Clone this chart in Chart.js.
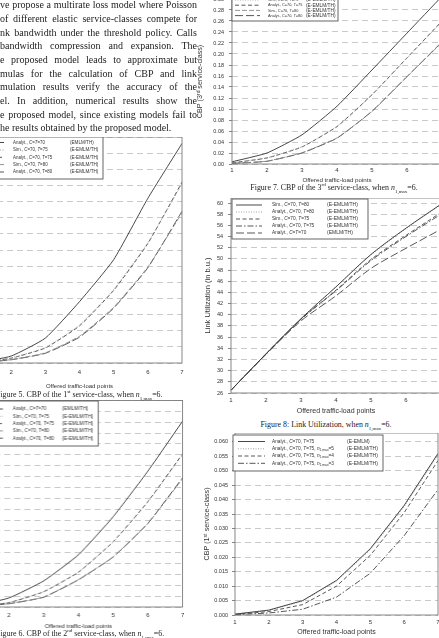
<!DOCTYPE html>
<html>
<head>
<meta charset="utf-8">
<script src="https://cdn.jsdelivr.net/npm/chart.js@4.4.1/dist/chart.umd.min.js"></script>
<style>
  body { margin: 0; width: 439px; height: 638px; overflow: hidden; background: #fff; position: relative;
         font-family: 'Liberation Serif', 'Times New Roman', serif; color: #222; }
  .line { position: absolute; left: 0; width: 197px; font-size: 10px; line-height: 13.7px; height: 13.7px;
          text-align: justify; text-align-last: justify; white-space: nowrap; }
  .line.last { text-align-last: left; }
  .cap { position: absolute; font-size: 7.9px; line-height: 10px; white-space: nowrap; color: #222; }
  .cap.mid { width: 240px; text-align: center; }
  .cap sub, .cap sup { font-size: 5px; line-height: 0; }
  .chartBox { position: absolute; }
</style>
</head>
<body>
<script>
// x axis: offered traffic-load points
let loadPoints = [1, 2, 3, 4, 5, 6, 7];

// Figure 5, CBP of the 1st service-class
let f5Analyt70 = [0.0002, 0.0043, 0.0154, 0.038, 0.064, 0.102, 0.136];
let f5Sim75 = [0.0001, 0.0031, 0.0096, 0.0235, 0.0455, 0.0745, 0.111];
let f5Analyt75 = [0.0001, 0.003, 0.0093, 0.023, 0.045, 0.074, 0.112];
let f5Sim80 = [0.0001, 0.0021, 0.0063, 0.0166, 0.0345, 0.0595, 0.093];
let f5Analyt80 = [0.0001, 0.002, 0.006, 0.016, 0.034, 0.059, 0.094];

// Figure 6, CBP of the 2nd service-class
let f6Analyt70 = [0.001, 0.0083, 0.024, 0.048, 0.083, 0.125, 0.171];
let f6Sim75 = [0.0005, 0.0042, 0.0142, 0.0322, 0.0598, 0.0965, 0.140];
let f6Analyt75 = [0.0005, 0.004, 0.014, 0.032, 0.060, 0.097, 0.141];
let f6Sim80 = [0.0003, 0.0031, 0.0092, 0.0252, 0.0462, 0.0768, 0.118];
let f6Analyt80 = [0.0003, 0.003, 0.009, 0.025, 0.046, 0.077, 0.119];

// Figure 7, CBP of the 3rd service-class
let f7Analyt70 = [0.004, 0.020, 0.053, 0.105, 0.171, 0.238, 0.305];
let f7Sim75 = [0.002, 0.0112, 0.0315, 0.0685, 0.1255, 0.1925, 0.259];
let f7Analyt75 = [0.002, 0.011, 0.031, 0.068, 0.126, 0.193, 0.260];
let f7Sim80 = [0.001, 0.0052, 0.0205, 0.0475, 0.0955, 0.1585, 0.221];
let f7Analyt80 = [0.001, 0.005, 0.020, 0.047, 0.096, 0.159, 0.222];

// Figure 8, link utilization (b.u.)
let f8Sim80 = [26.5, 33.0, 39.3, 45.0, 50.8, 55.5, 59.8];
let f8Analyt80 = [26.5, 33.0, 39.3, 45.0, 50.7, 55.4, 59.7];
let f8Sim75 = [26.5, 33.0, 39.2, 44.4, 49.9, 54.2, 58.3];
let f8Analyt75 = [26.5, 33.0, 39.2, 44.3, 49.7, 54.0, 58.0];
let f8Analyt70 = [26.5, 32.9, 38.9, 43.4, 48.3, 51.9, 55.3];

// Figure 9, CBP of the 1st service-class for several n1,max
let f9Eemlm = [0.0003, 0.0017, 0.0050, 0.0120, 0.0230, 0.0380, 0.0560];
let f9Nmax5 = [0.0003, 0.0016, 0.0048, 0.0117, 0.0226, 0.0376, 0.0555];
let f9Nmax4 = [0.0002, 0.0012, 0.0036, 0.0100, 0.0207, 0.0355, 0.0535];
let f9Nmax3 = [0.0001, 0.0007, 0.0020, 0.0062, 0.0145, 0.0275, 0.0435];

let bodyLines = [
  've propose a multirate loss model where Poisson',
  'of different elastic service-classes compete for',
  'nk bandwidth under the threshold policy. Calls',
  'bandwidth compression and expansion. The',
  'e proposed model leads to approximate but',
  'mulas for the calculation of CBP and link',
  'mulation results verify the accuracy of the',
  'el. In addition, numerical results show the',
  'e proposed model, since existing models fail to',
  'he results obtained by the proposed model.'
];

const sansFamily = "'Liberation Sans', Arial, sans-serif";
Chart.defaults.font.family = sansFamily;
Chart.defaults.color = '#333';

const solid = { color: '#333', width: 0.9, dash: [] };
const dotted = { color: '#9a9a9a', width: 0.9, dash: [1, 1.5] };
const dashed = { color: '#444', width: 0.9, dash: [4, 2.5] };
const longDash = { color: '#444', width: 0.9, dash: [8, 3] };
const dashDot = { color: '#444', width: 0.9, dash: [6, 2, 1.5, 2] };
const midDash = { color: '#888', width: 0.9, dash: [5, 2] };

function series(label, tag, values, style) {
  return {
    label: label, tag: tag, data: values,
    borderColor: style.color, borderWidth: style.width, borderDash: style.dash,
    pointRadius: 0, fill: false
  };
}

// draws "C", "T" in italics and n_1,max with a subscript, squeezed sideways by sx
function drawRich(ctx, text, x, y, size, sx) {
  ctx.save();
  ctx.translate(x, y);
  ctx.scale(sx, 1);
  let cx = 0;
  let parts = text.split(/(n_1,max|C|T)/);
  for (let p of parts) {
    if (!p) continue;
    if (p === 'n_1,max') {
      ctx.font = `italic ${size}px ${sansFamily}`;
      ctx.fillText('n', cx, 0);
      cx += ctx.measureText('n').width;
      ctx.font = `${size * 0.7}px ${sansFamily}`;
      ctx.fillText('1,max', cx, size * 0.3);
      cx += ctx.measureText('1,max').width;
    } else {
      ctx.font = (p === 'C' || p === 'T' ? 'italic ' : '') + `${size}px ${sansFamily}`;
      ctx.fillText(p, cx, 0);
      cx += ctx.measureText(p).width;
    }
  }
  ctx.restore();
}

// frame round the plot and the boxed legend inside it
const framedLegend = {
  id: 'framedLegend',
  afterDatasetsDraw(chart) {
    let a = chart.chartArea, ctx = chart.ctx;
    ctx.save();
    ctx.strokeStyle = '#7a7a7a';
    ctx.lineWidth = 0.9;
    ctx.strokeRect(a.left, a.top, a.right - a.left, a.bottom - a.top);
    ctx.restore();
  },
  afterDraw(chart, args, opts) {
    if (!opts.box) return;
    let ctx = chart.ctx, ox = opts.offset[0], oy = opts.offset[1];
    let [x0, y0, x1, y1] = opts.box;
    ctx.save();
    ctx.fillStyle = '#fff';
    ctx.fillRect(x0 - ox, y0 - oy, x1 - x0, y1 - y0);
    ctx.strokeStyle = '#555';
    ctx.lineWidth = 0.9;
    ctx.strokeRect(x0 - ox, y0 - oy, x1 - x0, y1 - y0);
    ctx.textBaseline = 'middle';
    ctx.fillStyle = '#333';
    chart.data.datasets.forEach((ds, i) => {
      let y = opts.rows[i] - oy;
      ctx.strokeStyle = ds.borderColor;
      ctx.lineWidth = ds.borderWidth;
      ctx.setLineDash(ds.borderDash);
      ctx.beginPath();
      ctx.moveTo(opts.sample[0] - ox, y);
      ctx.lineTo(opts.sample[1] - ox, y);
      ctx.stroke();
      ctx.setLineDash([]);
      drawRich(ctx, ds.label, opts.textX - ox, y, opts.size, opts.squeeze);
      ctx.font = `${opts.tagSize}px ${sansFamily}`;
      ctx.fillText(ds.tag, opts.tagX - ox, y);
    });
    ctx.restore();
  }
};

function makeChart(spec) {
  let [l, t, r, b] = spec.plot;
  let left = l - spec.yw, top = t;
  let box = document.createElement('div');
  box.className = 'chartBox';
  box.style.left = left + 'px';
  box.style.top = top + 'px';
  box.style.width = (r - left + 2) + 'px';
  box.style.height = (b - t + spec.xh) + 'px';
  let canvas = document.createElement('canvas');
  box.appendChild(canvas);
  document.body.appendChild(box);

  spec.legend.offset = [left, top];
  return new Chart(canvas, {
    type: 'line',
    data: { labels: loadPoints, datasets: spec.datasets },
    plugins: [framedLegend],
    options: {
      responsive: true,
      maintainAspectRatio: false,
      animation: false,
      layout: { padding: { top: 0, right: 2, left: 0, bottom: 0 } },
      elements: { line: { tension: spec.tension } },
      plugins: {
        legend: { display: false },
        tooltip: { enabled: false },
        framedLegend: spec.legend
      },
      scales: {
        x: {
          grid: { display: false, drawTicks: false },
          border: { display: false },
          ticks: { padding: spec.xPad, font: { size: 6 }, color: '#333', maxRotation: 0 },
          title: { display: true, text: 'Offered traffic-load points', padding: 0,
                   font: { size: spec.xTitleSize }, color: '#333' },
          afterFit: s => { s.height = spec.xh; s.paddingLeft = 0; s.paddingRight = 0; }
        },
        y: {
          min: spec.yMin, max: spec.yMax,
          grid: { color: '#bdbdbd', lineWidth: 0.8, tickLength: 3, tickColor: '#666' },
          border: { display: false, dash: [6, 4] },
          ticks: { stepSize: spec.yStep, includeBounds: false, padding: spec.yPad,
                   font: { size: 5.5 }, color: '#333',
                   callback: v => v.toFixed(spec.decimals) },
          title: { display: true, text: spec.yTitle, padding: 0,
                   font: { size: spec.yTitleSize }, color: '#333' },
          afterFit: s => { s.width = spec.yw; s.paddingTop = 0; s.paddingBottom = 0; }
        }
      }
    }
  });
}

function fiveClassSets(a70, s75, a75, s80, a80) {
  return [
    series('Analyt., C=T=70', '(EMLM/TH)', a70, solid),
    series('Sim., C=70, T=75', '(E-EMLM/TH)', s75, dotted),
    series('Analyt., C=70, T=75', '(E-EMLM/TH)', a75, dashed),
    series('Sim., C=70, T=80', '(E-EMLM/TH)', s80, midDash),
    series('Analyt., C=70, T=80', '(E-EMLM/TH)', a80, longDash)
  ];
}

makeChart({
  plot: [-23, 137, 182, 363], yw: 40, xh: 27, xPad: 5.4, xTitleSize: 6, yPad: 4,
  yMin: 0, yMax: 0.14, yStep: 0.01, decimals: 2, tension: 0.15,
  yTitle: 'CBP (1ˢᵗ service-class)', yTitleSize: 6.5,
  datasets: fiveClassSets(f5Analyt70, f5Sim75, f5Analyt75, f5Sim80, f5Analyt80),
  legend: { box: [-30, 137, 103, 179], rows: [142.5, 150, 157.3, 164.6, 172], sample: [-15, 4],
            textX: 13, tagX: 70, size: 4.8, tagSize: 4.6, squeeze: 0.92 }
});

makeChart({
  plot: [-25.6, 400, 182, 607], yw: 40, xh: 23, xPad: 4.4, xTitleSize: 6, yPad: 4,
  yMin: 0, yMax: 0.19, yStep: 0.01, decimals: 2, tension: 0.15,
  yTitle: 'CBP (2ⁿᵈ service-class)', yTitleSize: 6.5,
  datasets: fiveClassSets(f6Analyt70, f6Sim75, f6Analyt75, f6Sim80, f6Analyt80),
  legend: { box: [-30, 401, 98, 446], rows: [409, 416.3, 423.6, 430.9, 438.2], sample: [-15, 3],
            textX: 13, tagX: 62, size: 5, tagSize: 5, squeeze: 0.92 }
});

makeChart({
  plot: [232, -1, 442, 164], yw: 36, xh: 20, xPad: 2.4, xTitleSize: 6.2, yPad: 5,
  yMin: 0, yMax: 0.30, yStep: 0.02, decimals: 2, tension: 0.15,
  yTitle: 'CBP (3ʳᵈ service-class)', yTitleSize: 7.2,
  datasets: fiveClassSets(f7Analyt70, f7Sim75, f7Analyt75, f7Sim80, f7Analyt80),
  legend: { box: [232, -10, 338, 21], rows: [-5.2, 0, 5.2, 10.4, 15.6], sample: [235, 260],
            textX: 268, tagX: 306, size: 4.4, tagSize: 4.8, squeeze: 0.88 }
});

makeChart({
  plot: [231, 198, 441, 393], yw: 28, xh: 22, xPad: 4, xTitleSize: 7, yPad: 5,
  yMin: 26, yMax: 60.9, yStep: 2, decimals: 0, tension: 0.3,
  yTitle: 'Link Utilization (in b.u.)', yTitleSize: 7.5,
  datasets: [
    series('Sim., C=70, T=80', '(E-EMLM/TH)', f8Sim80, solid),
    series('Analyt., C=70, T=80', '(E-EMLM/TH)', f8Analyt80, dotted),
    series('Sim., C=70, T=75', '(E-EMLM/TH)', f8Sim75, dashed),
    series('Analyt., C=70, T=75', '(E-EMLM/TH)', f8Analyt75, dashDot),
    series('Analyt., C=T=70', '(EMLM/TH)', f8Analyt70, longDash)
  ],
  legend: { box: [232, 199, 368, 239], rows: [205, 212, 219, 226, 233], sample: [236, 262],
            textX: 272, tagX: 327, size: 5, tagSize: 5, squeeze: 0.95 }
});

makeChart({
  plot: [235, 433, 438, 615], yw: 32, xh: 21, xPad: 3.4, xTitleSize: 7, yPad: 4,
  yMin: 0, yMax: 0.0631, yStep: 0.005, decimals: 3, tension: 0,
  yTitle: 'CBP (1ˢᵗ service-class)', yTitleSize: 7.2,
  datasets: [
    series('Analyt., C=70, T=75', '(E-EMLM)', f9Eemlm, solid),
    series('Analyt., C=70, T=75, n_1,max=5', '(E-EMLM/TH)', f9Nmax5, dotted),
    series('Analyt., C=70, T=75, n_1,max=4', '(E-EMLM/TH)', f9Nmax4, dashed),
    series('Analyt., C=70, T=75, n_1,max=3', '(E-EMLM/TH)', f9Nmax3, dashDot)
  ],
  legend: { box: [233, 435, 383, 471], rows: [441.5, 448.8, 456, 463.3], sample: [238, 265],
            textX: 272, tagX: 347, size: 5, tagSize: 5, squeeze: 0.95 }
});

// body text and figure captions
bodyLines.forEach((txt, i) => {
  let d = document.createElement('div');
  d.className = 'line' + (i === bodyLines.length - 1 ? ' last' : '');
  d.style.top = (-1.85 + 13.7 * i) + 'px';
  d.textContent = txt;
  document.body.appendChild(d);
});

function caption(html, x, y, centered) {
  let d = document.createElement('div');
  d.className = centered ? 'cap mid' : 'cap';
  d.style.left = (centered ? x - 120 : x) + 'px';
  d.style.top = (y - 5) + 'px';
  d.innerHTML = html;
  document.body.appendChild(d);
}
let nmax = '<i>n</i><sub>1,max</sub>=6.';
caption('Figure 5. CBP of the 1<sup>st</sup> service-class, when ' + nmax, -4, 395, false);
caption('Figure 6. CBP of the 2<sup>nd</sup> service-class, when ' + nmax, -4, 634, false);
caption('Figure 7. CBP of the 3<sup>rd</sup> service-class, when ' + nmax, 334, 188, true);
caption('Figure 8: Link Utilization, when ' + nmax, 326, 425, true);
</script>
</body>
</html>
